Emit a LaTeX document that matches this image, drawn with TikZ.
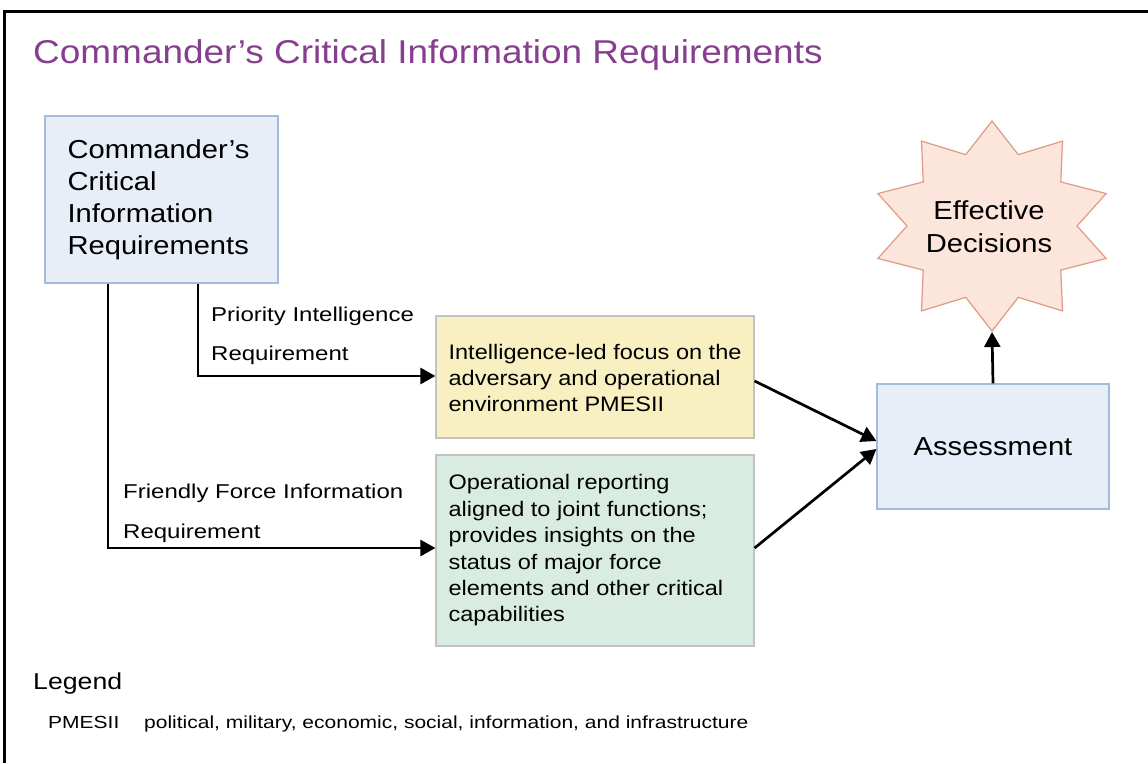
\documentclass[tikz,border=0pt]{standalone}
\usepackage{fontspec}
\setmainfont{Liberation Sans}[FakeStretch=1.12]
\newfontfamily\lblfont{Liberation Sans}[FakeStretch=1.2]
\newfontfamily\legfont{Liberation Sans}[FakeStretch=1.16]
\usetikzlibrary{arrows.meta,calc}
\definecolor{titlepurple}{HTML}{863F8E}
\definecolor{bluefill}{HTML}{E7EEF8}
\definecolor{blueline}{HTML}{A3BCDD}
\definecolor{yellowfill}{HTML}{F8F0C0}
\definecolor{greenfill}{HTML}{D9ECE1}
\definecolor{grayline}{HTML}{C2C2C2}
\definecolor{starfill}{HTML}{FCE5DB}
\definecolor{starline}{HTML}{DE9A86}
\tikzset{
  bluebox/.style={draw=blueline, fill=bluefill, line width=1.2pt, inner sep=0pt},
  infobox/.style={draw=grayline, line width=1.2pt, inner sep=0pt},
  boxtext/.style={anchor=west, inner sep=0pt, align=left},
  arr/.style={line width=2.7pt, -{Triangle[length=15pt,width=16pt]}},
  lbl/.style={anchor=base west, inner sep=0pt, font=\lblfont\fontsize{20}{24}\selectfont},
}
\begin{document}
\begin{tikzpicture}[x=1pt,y=-1pt]
\useasboundingbox (0,0) rectangle (1148,763);
\fill[white] (0,0) rectangle (1148,763);
% frame
\draw[line width=3pt] (4,763) -- (4,11) -- (1148,11);
% title
\node[anchor=base west, inner sep=0pt, text=titlepurple, font=\fontsize{33}{38}\selectfont] (title) at (33,63) {Commander’s Critical Information Requirements};
% CCIR box
\node[bluebox, minimum width=233pt, minimum height=167pt] (ccir) at (161.5,199.5) {};
\node[boxtext, font=\fontsize{26}{32}\selectfont] (ccirt) at ([xshift=23pt]ccir.west)
      {Commander’s\\Critical\\Information\\Requirements};
% yellow box
\node[infobox, fill=yellowfill, minimum width=318pt, minimum height=122pt] (intel) at (595,377) {};
\node[boxtext, font=\fontsize{21}{26}\selectfont] (intelt) at ([xshift=13pt,yshift=-1pt]intel.west)
      {Intelligence-led focus on the\\adversary and operational\\environment PMESII};
% green box
\node[infobox, fill=greenfill, minimum width=318pt, minimum height=191pt] (opr) at (595,550.5) {};
\node[boxtext, font=\fontsize{21}{26.4}\selectfont] (oprt) at ([xshift=13pt]opr.west)
      {Operational reporting\\aligned to joint functions;\\provides insights on the\\status of major force\\elements and other critical\\capabilities};
% assessment box
\node[bluebox, minimum width=232pt, minimum height=125pt, font=\fontsize{26}{32}\selectfont] (assess) at (993,446.5) {Assessment};
% star
\draw[draw=starline, fill=starfill, line width=1.2pt]
  plot[samples at={0,...,19}] ({992+(85+35*mod(\x+1,2))*cos(90+18*\x)}, {226-(75+30*mod(\x+1,2))*sin(90+18*\x)}) -- cycle;
\node[align=center, inner sep=0pt, font=\fontsize{26}{33}\selectfont] (eff) at (989,226.5) {Effective\\Decisions};
\coordinate (starbot) at (992,332);
% labels
\node[lbl] (pir1) at (211,321) {Priority Intelligence};
\node[lbl] (pir2) at (211,360) {Requirement};
\node[lbl] (ffir1) at (123,498) {Friendly Force Information};
\node[lbl] (ffir2) at (123,538) {Requirement};
% connectors
\draw[arr] ([xshift=36.5pt]ccir.south) |- ([yshift=1pt]intel.west);
\draw[arr] ([xshift=-53.5pt]ccir.south) |- ([yshift=2.5pt]opr.west);
\draw[arr] ([yshift=-4pt]intel.east) -- ([yshift=5.5pt]assess.west);
\draw[arr] ([yshift=2.5pt]opr.east) -- ([yshift=-2.5pt]assess.west);
\draw[arr] (assess.north) -- (starbot);
% legend
\node[anchor=base west, inner sep=0pt, font=\legfont\fontsize{23}{28}\selectfont] (legend) at (33,689) {Legend};
\node[anchor=base west, inner sep=0pt, font=\lblfont\fontsize{17.5}{20}\selectfont] (pm) at (48,728) {PMESII};
\node[anchor=base west, inner sep=0pt, font=\lblfont\fontsize{17.5}{20}\selectfont] (pmdef) at (144,728) {political, military, economic, social, information, and infrastructure};
\end{tikzpicture}
\end{document}
